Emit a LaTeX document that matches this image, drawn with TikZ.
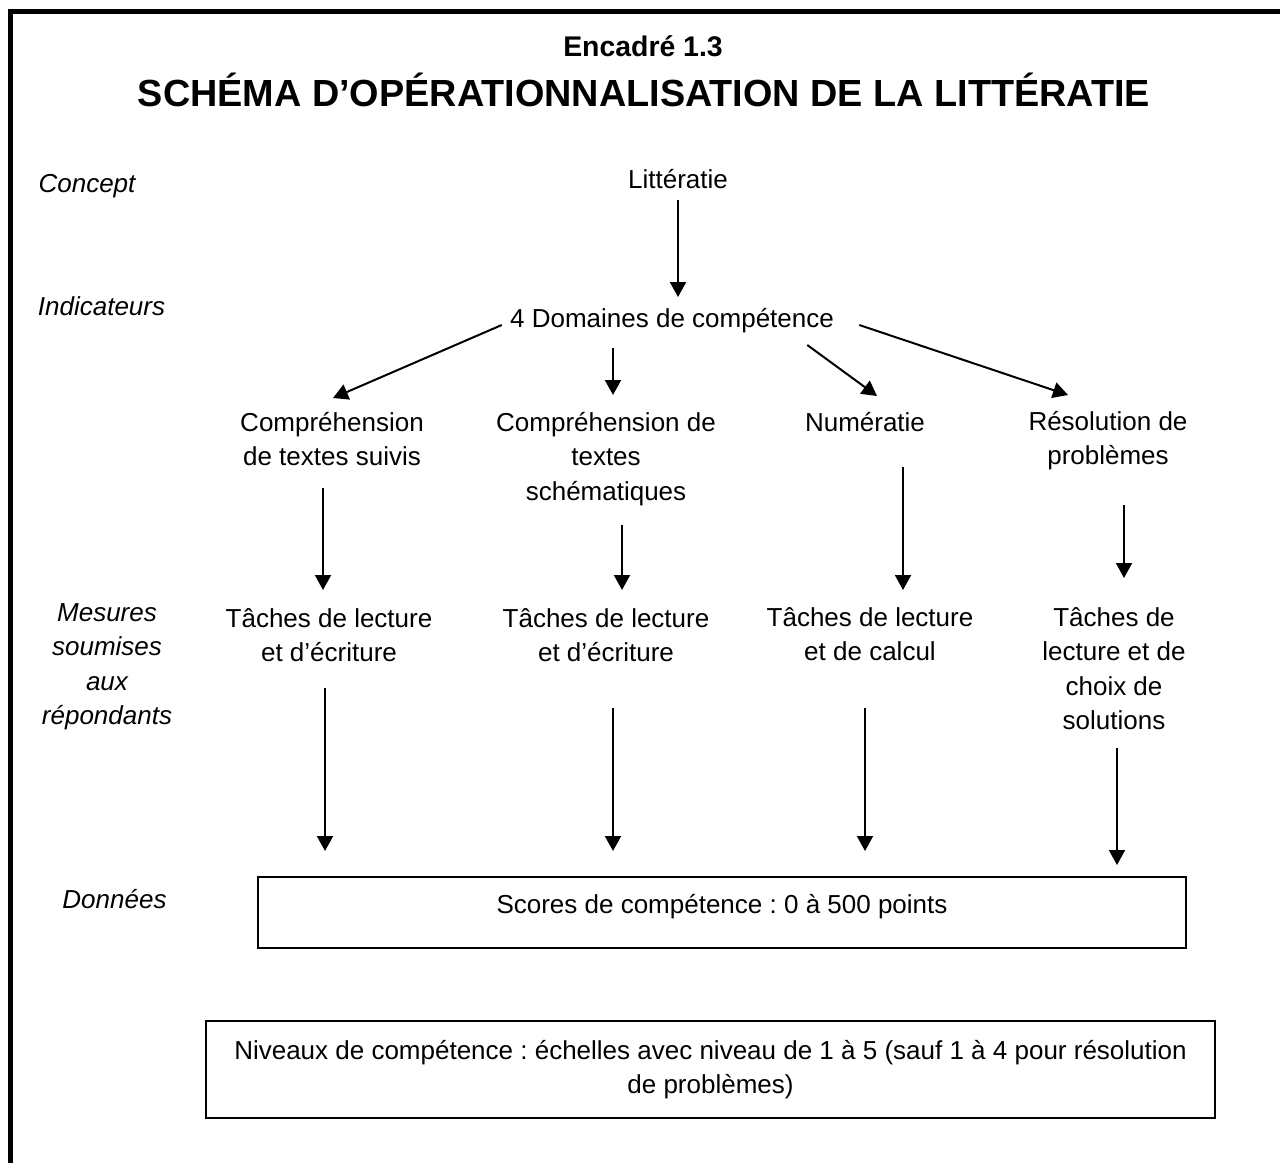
\documentclass[tikz,border=0pt]{standalone}
\usepackage{fontspec}
\setmainfont{Liberation Sans}
\usetikzlibrary{arrows.meta}
\frenchspacing
\begin{document}
\begin{tikzpicture}[x=0.5pt, y=-0.5pt,
  txt/.style={inner sep=0pt, align=center, font=\fontsize{13}{17.2}\selectfont},
  etiq/.style={txt, font=\fontsize{13}{17.2}\selectfont\itshape},
  fleche/.style={line width=1pt, -{Triangle[width=8pt,length=7.5pt]}},
  boite/.style={draw, line width=1pt, align=center, font=\fontsize{13}{17.2}\selectfont}]
\useasboundingbox (0,0) rectangle (1280,1163);
% Cadre
\draw[line width=2.5pt] (10.5,1163) -- (10.5,11.5) -- (1280,11.5);
% Titre
\node[txt, anchor=base, font=\bfseries\fontsize{14.2}{17}\selectfont] (encadre) at (643,56) {Encadré 1.3};
\node[txt, anchor=base, font=\bfseries\fontsize{18.9}{22}\selectfont] (titre) at (644,106) {SCHÉMA D’OPÉRATIONNALISATION DE LA LITTÉRATIE};
% Niveaux (colonne de gauche)
\node[etiq, anchor=base] (concept) at (87,192) {Concept};
\node[etiq, anchor=base] (indic) at (101.5,315) {Indicateurs};
\node[etiq, anchor=north] (mesures) at (107,603) {Mesures\\soumises\\aux\\répondants};
\node[etiq, anchor=base] (donnees) at (114.5,908) {Données};
% Concept et domaines
\node[txt, anchor=base] (lit) at (678,188) {Littératie};
\node[txt, anchor=base] (dom) at (672,327) {4 Domaines de compétence};
\node[txt, anchor=north] (comp1) at (332,412) {Compréhension\\de textes suivis};
\node[txt, anchor=north] (comp2) at (606,412) {Compréhension de\\textes\\schématiques};
\node[txt, anchor=base] (num) at (865,431) {Numératie};
\node[txt, anchor=north] (res) at (1108,411) {Résolution de\\problèmes};
% Mesures
\node[txt, anchor=north] (t1) at (329,608) {Tâches de lecture\\et d’écriture};
\node[txt, anchor=north] (t2) at (606,608) {Tâches de lecture\\et d’écriture};
\node[txt, anchor=north] (t3) at (870,607) {Tâches de lecture\\et de calcul};
\node[txt, anchor=north] (t4) at (1114,607) {Tâches de\\lecture et de\\choix de\\solutions};
% Donnees
\node[boite, anchor=north west, minimum width=464pt, inner ysep=8pt, text height=10pt, text depth=9.5pt] (scores) at (257,876) {Scores de compétence : 0 à 500 points};
\node[boite, anchor=north west, minimum width=504.5pt, minimum height=48.5pt] (niveaux) at (205,1020) {Niveaux de compétence : échelles avec niveau de 1 à 5 (sauf 1 à 4 pour résolution\\de problèmes)};
% Fleches
\draw[fleche] ([yshift=-6pt]lit.base) -- ([yshift=15pt]lit.base |- dom.base);
\draw[fleche] ([shift={(-8,-2)}]dom.base west) -- ([shift={(1,-14)}]comp1.north);
\draw[fleche] ([shift={(-59,21)}]dom.base) -- ([shift={(7,-17)}]comp2.north);
\draw[fleche] ([shift={(-27,18)}]dom.base east) -- ([shift={(12,-35)}]num.base);
\draw[fleche] ([shift={(25,-2)}]dom.base east) -- ([shift={(-40,-16)}]res.north);
\draw[fleche] ([shift={(-9,76)}]comp1.north) -- ([shift={(-9,-18)}]comp1.north |- t1.north);
\draw[fleche] ([shift={(16,113)}]comp2.north) -- ([shift={(16,-18)}]comp2.north |- t2.north);
\draw[fleche] ([shift={(38,36)}]num.base) -- ([shift={(38,-17)}]num.base |- t3.north);
\draw[fleche] ([shift={(16,94)}]res.north) -- ([shift={(16,-29)}]res.north |- t4.north);
\draw[fleche] ([shift={(-4,80)}]t1.north) -- ([shift={(-4,-25)}]t1.north |- scores.north);
\draw[fleche] ([shift={(7,100)}]t2.north) -- ([shift={(7,-25)}]t2.north |- scores.north);
\draw[fleche] ([shift={(-5,101)}]t3.north) -- ([shift={(-5,-25)}]t3.north |- scores.north);
\draw[fleche] ([shift={(3,141)}]t4.north) -- ([shift={(3,-11)}]t4.north |- scores.north);
\end{tikzpicture}
\end{document}
